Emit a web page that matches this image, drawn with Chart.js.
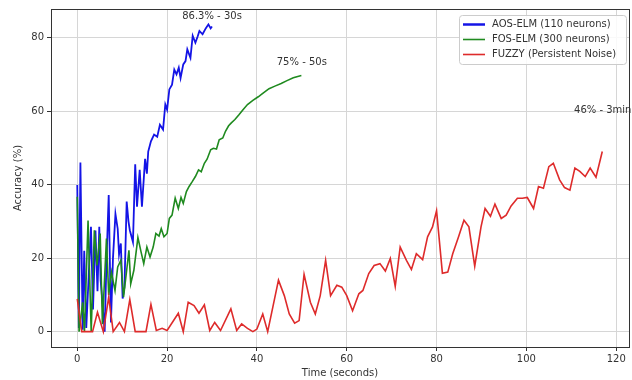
<!DOCTYPE html>
<html>
<head>
<meta charset="utf-8">
<script src="https://cdn.jsdelivr.net/npm/chart.js@4.4.1/dist/chart.umd.min.js"></script>
<style>
html,body{margin:0;padding:0;background:#fff;}
#wrap{width:632px;height:380px;position:relative;}
</style>
</head>
<body>
<div id="wrap"><canvas id="c" width="632" height="380"></canvas></div>
<script>
// ---- data ----
const seriesLabels = ['AOS-ELM (110 neurons)', 'FOS-ELM (300 neurons)', 'FUZZY (Persistent Noise)'];

const blueTime = [0,0.35,0.7,1.2,1.55,2.0,2.5,3.05,3.5,4.05,4.5,4.9,5.2,5.6,6.1,6.5,7.0,7.5,7.95,8.5,9.0,9.3,9.7,10.1,10.5,11.0,11.4,11.7,12.4,12.9,13.3,13.9,14.4,15.1,15.5,15.8,16.4,17.1,17.8,18.4,19.1,19.6,20.0,20.5,21.1,21.6,22.1,22.6,23.0,23.6,24.1,24.5,25.2,25.7,26.3,26.8,27.2,27.9,28.6,29.2,29.7,30.0];
const blueAcc  = [39.9,1,46,0.5,22,1,14,28.5,6,27.5,11,28.5,14,8,0,19,37.2,2.5,20,32,28,21,24,9,12,35.4,30,27.6,24.4,45.5,34,44,34,47,43,49,51.8,53.6,53,56.3,55,61.8,60.4,65.9,67.2,71.3,70,71.8,69,72.7,73.6,76.8,74.5,80.5,78.6,80.3,81.8,80.9,82.5,83.6,82.5,83];

const greenTime = [0,0.4,1.2,1.6,2.4,3.1,3.8,4.4,5.1,5.6,6.5,7.0,7.6,8.4,9.0,9.7,10.3,11.0,11.5,11.9,12.6,13.5,14.2,14.8,15.5,16.2,16.9,17.5,18.2,18.7,19.3,20.0,20.5,21.1,21.8,22.5,23.1,23.6,24.3,24.9,25.6,26.3,27.0,27.6,28.3,28.9,29.7,30.3,31.0,31.6,32.4,33.0,33.7,34.3,35.1,36.0,36.9,37.9,39.1,40.3,41.3,42.7,44.0,45.4,46.7,48.1,49.9];
const greenAcc  = [36.7,0,8,0,30.2,0,27.6,18,26.7,2,25.3,10,16.2,11.2,17.6,19.4,9.4,16.7,22.1,13,16.7,25.6,21.7,18.5,23,20.3,23,26.7,26,28,25.8,26.7,30.8,31.7,36.3,33.5,36.5,34.9,38.1,39.5,40.8,42.2,44,43.5,45.8,46.9,49.5,49.9,49.7,52.2,52.7,54.5,56,56.8,57.7,59,60.4,61.8,62.9,63.9,64.8,66.1,66.8,67.5,68.3,69.1,69.7];

const redTime = [0,1,3.4,4.5,5.8,7,8,9.4,10.5,11.7,12.9,15.3,16.4,17.6,18.9,20,22.5,23.6,24.7,26,27.1,28.3,29.5,30.6,31.9,34.2,35.5,36.6,37.9,39.1,40,41.3,42.4,44.8,46.1,47.2,48.4,49.4,50.5,51.9,53,54.1,55.3,56.4,57.8,58.9,60,61.3,62.7,63.6,64.9,66.1,67.4,68.6,69.7,70.8,71.9,73.3,74.4,75.5,76.9,78,79.1,80,81.3,82.5,83.6,84.9,86.1,87.2,88.5,89.9,90.8,92,93,94.4,95.5,96.6,98,99.1,100.2,101.6,102.7,103.8,105,106,107.4,108.5,109.7,110.8,111.9,113.1,114.2,115.5,116.9];
const redAcc  = [8.9,0,0,5.3,0,9.4,0,2.5,0,8.7,0,0,7.4,0.3,0.9,0.3,5,0,8,7.1,5,7.3,0.3,2.5,0.3,6.2,0.3,2.1,0.9,0,0.7,4.8,0,14,9.8,4.8,2.3,3,15.6,8,4.8,9.8,19.4,9.8,12.6,12.1,9.8,5.7,10.3,11.2,15.8,18,18.5,16.5,19.9,12.3,23,19.4,16.9,21.2,19.6,25.8,28.5,32.9,15.9,16.2,21.2,25.8,30.3,28.5,17.8,28.5,33.5,31.4,34.7,30.8,31.7,34.2,36.3,36.3,36.5,33.5,39.5,39,44.9,45.8,41.3,39.2,38.5,44.5,43.6,42.2,44.5,42,49];

const xTicks = [0,20,40,60,80,100,120];
const yTicks = [0,20,40,60,80];

const annX = [30, 50, 117];
const annY = [85.9, 73.2, 60.1];
const annText = ['86.3% - 30s', '75% - 50s', '46% - 3min'];

// ---- styles ----
const colors = ['#1414e6', '#1f8a1f', '#de2b2b'];
const FONT = 'DejaVu Sans';
const TXT = '#333333';

function pts(t, a){ return t.map((v,i)=>({x:v, y:a[i]})); }

const boxPlugin = {
  id: 'box',
  afterDraw(chart){
    const {ctx, chartArea:a} = chart;
    ctx.save();
    ctx.strokeStyle = '#333';
    ctx.lineWidth = 1;
    ctx.strokeRect(Math.round(a.left)+0.5, Math.round(a.top)+0.5, Math.round(a.right-a.left), Math.round(a.bottom-a.top));
    ctx.restore();
  }
};

const annPlugin = {
  id: 'ann',
  afterDatasetsDraw(chart){
    const {ctx, scales:{x, y}} = chart;
    ctx.save();
    ctx.font = '10px "' + FONT + '"';
    ctx.fillStyle = TXT;
    ctx.textAlign = 'center';
    ctx.textBaseline = 'middle';
    annText.forEach((t,i)=>{
      ctx.fillText(t, x.getPixelForValue(annX[i]), y.getPixelForValue(annY[i]));
    });
    ctx.restore();
  }
};

const legendPlugin = {
  id: 'lg',
  afterDraw(chart){
    const {ctx, chartArea:a} = chart;
    const bx = a.right - 170, by = a.top + 6, bw = 167, bh = 49;
    ctx.save();
    ctx.fillStyle = 'rgba(255,255,255,0.85)';
    ctx.strokeStyle = '#cccccc';
    ctx.lineWidth = 1;
    ctx.beginPath();
    ctx.roundRect(bx+0.5, by+0.5, bw, bh, 3);
    ctx.fill(); ctx.stroke();
    ctx.font = '10px "' + FONT + '"';
    ctx.textBaseline = 'middle';
    ctx.textAlign = 'left';
    chart.data.datasets.forEach((ds,i)=>{
      const yy = by + 9.5 + i*15;
      ctx.strokeStyle = ds.borderColor;
      ctx.lineWidth = i===0 ? 2.5 : 1.6;
      ctx.beginPath(); ctx.moveTo(bx+4, yy); ctx.lineTo(bx+26, yy); ctx.stroke();
      ctx.fillStyle = TXT;
      ctx.fillText(ds.label, bx+33, yy);
    });
    ctx.restore();
  }
};

new Chart(document.getElementById('c'), {
  type: 'line',
  data: {
    datasets: [
      {label: seriesLabels[0], data: pts(blueTime, blueAcc), borderColor: colors[0], borderWidth: 1.8, pointRadius: 0, tension: 0, order: 3},
      {label: seriesLabels[1], data: pts(greenTime, greenAcc), borderColor: colors[1], borderWidth: 1.6, pointRadius: 0, tension: 0, order: 2},
      {label: seriesLabels[2], data: pts(redTime, redAcc), borderColor: colors[2], borderWidth: 1.6, pointRadius: 0, tension: 0, order: 1}
    ]
  },
  options: {
    responsive: false,
    animation: false,
    devicePixelRatio: 1,
    layout: {padding: {left: 0, right: 3, top: 9, bottom: 0}},
    plugins: {legend: {display: false}, tooltip: {enabled: false}},
    scales: {
      x: {
        type: 'linear', min: -5.85, max: 122.85,
        afterBuildTicks: s => { s.ticks = xTicks.map(v=>({value:v})); },
        afterFit: s => { s.height = 33; },
        grid: {color: '#d6d6d6', lineWidth: 1, tickLength: 4, tickColor: '#333', drawTicks: true},
        border: {display: false},
        ticks: {font: {family: FONT, size: 10}, color: TXT, padding: 2, maxRotation: 0, autoSkip: false},
        title: {display: true, text: 'Time (seconds)', font: {family: FONT, size: 10}, color: TXT, padding: {top: 0, bottom: 1}}
      },
      y: {
        type: 'linear', min: -4.18, max: 87.78,
        afterBuildTicks: s => { s.ticks = yTicks.map(v=>({value:v})); },
        afterFit: s => { s.width = 51; },
        grid: {color: '#d6d6d6', lineWidth: 1, tickLength: 4, tickColor: '#333', drawTicks: true},
        border: {display: false},
        ticks: {font: {family: FONT, size: 10}, color: TXT, padding: 3, autoSkip: false},
        title: {display: true, text: 'Accuracy (%)', font: {family: FONT, size: 10}, color: TXT, padding: {top: 12, bottom: 0}}
      }
    }
  },
  plugins: [boxPlugin, annPlugin, legendPlugin]
});
</script>
</body>
</html>
